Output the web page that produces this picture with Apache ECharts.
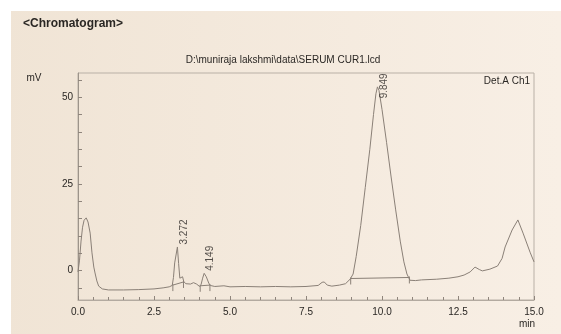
<!DOCTYPE html>
<html><head><meta charset="utf-8">
<script src="https://cdn.jsdelivr.net/npm/echarts@6/dist/echarts.min.js"></script>
<style>html,body{margin:0;padding:0;background:#fff}#c{width:561px;height:334px}</style>
</head><body><div id="c"></div>
<script>
// Detector trace (retention time in min, signal in mV)
const traceTime = [0.00,0.05,0.10,0.15,0.20,0.27,0.33,0.40,0.46,0.52,0.56,0.62,0.68,0.80,1.0,1.5,2.0,2.5,2.8,3.0,3.1,3.14,3.18,3.22,3.27,3.31,3.35,3.40,3.44,3.48,3.55,3.7,3.8,3.9,4.0,4.05,4.1,4.15,4.22,4.3,4.35,4.5,4.8,5.0,5.5,6.0,6.5,7.0,7.5,7.9,8.03,8.1,8.2,8.35,8.6,8.8,8.95,9.05,9.15,9.3,9.45,9.6,9.72,9.8,9.85,9.9,10.0,10.15,10.3,10.45,10.6,10.72,10.82,10.92,11.1,11.3,11.8,12.2,12.5,12.7,12.9,13.06,13.2,13.3,13.55,13.8,13.95,14.05,14.28,14.47,14.64,14.87,15.0];
const traceMV   = [-0.4,3.0,8.5,12.5,14.5,15.2,14.0,10.8,5.1,1.0,-0.7,-3.0,-4.5,-5.3,-5.6,-5.6,-5.5,-5.3,-5.0,-4.7,-4.3,-2.0,2.2,2.6,6.8,2.0,-2.2,-2.6,-1.8,-3.2,-3.8,-3.9,-3.5,-3.9,-4.6,-4.0,-2.2,-0.8,-1.8,-3.6,-4.3,-4.6,-4.4,-4.7,-4.6,-4.7,-4.6,-4.7,-4.6,-4.3,-3.4,-3.3,-4.2,-4.5,-4.2,-3.8,-2.5,-1.0,4.0,13.0,24.0,35.0,45.0,51.0,53.0,52.0,46.5,37.0,27.0,17.5,8.5,2.5,-1.0,-2.8,-2.9,-2.7,-2.5,-2.2,-1.8,-1.3,-0.4,1.0,0.3,-0.1,0.4,1.3,3.5,6.8,11.7,14.6,10.8,5.3,2.5];

// Labelled peaks
const peakRT = [3.272, 4.149, 9.849];
const peakMV = [6.8, -0.8, 53.0];

// Integration baselines (start / end of each peak)
const intStartT  = [3.12, 4.02, 8.97];
const intStartMV = [-4.2, -4.4, -2.3];
const intEndT    = [3.47, 4.34, 10.90];
const intEndMV   = [-3.3, -4.2, -2.0];

// Axis ticks
const yLabelValues = [0, 25, 50];
const yTickValues = [-5, 0, 5, 10, 15, 20, 25, 30, 35, 40, 45, 50, 55];

const TXT = '#2a2724';
const LINE = '#8a8077';
const FONT = '"Liberation Sans", Arial, sans-serif';

const chart = echarts.init(document.getElementById('c'), null, {renderer: 'canvas'});

const traceData = traceTime.map((t, i) => [t, traceMV[i]]);
const baseSeries = intStartT.map((t, i) => ({
  type: 'line', silent: true, symbol: 'none', animation: false,
  lineStyle: {color: LINE, width: 1},
  data: [[t, intStartMV[i]], [intEndT[i], intEndMV[i]]]
}));
const markData = [];
intStartT.forEach((t, i) => { markData.push([t, intStartMV[i]]); markData.push([intEndT[i], intEndMV[i]]); });

chart.setOption({
  animation: false,
  backgroundColor: {type: 'linear', x: 0, y: 0, x2: 1, y2: 0,
    colorStops: [{offset: 0, color: '#f0e4d5'}, {offset: 1, color: '#f8efe5'}]},
  textStyle: {fontFamily: FONT},
  grid: {left: 78, right: 27, top: 73, bottom: 34, show: true, borderColor: '#b9b0a6', borderWidth: 1},
  graphic: [
    {type: 'rect', left: 0, top: 0, shape: {width: 561, height: 11}, style: {fill: '#ffffff'}, silent: true},
    {type: 'rect', left: 0, top: 0, shape: {width: 11, height: 334}, style: {fill: '#ffffff'}, silent: true},
    {type: 'text', left: 23, top: 18, style: {text: '<Chromatogram>', font: 'bold 12px ' + FONT, fill: TXT}},
    {type: 'text', x: 283, y: 60, style: {text: 'D:\\muniraja lakshmi\\data\\SERUM CUR1.lcd', font: '10px ' + FONT, fill: TXT, align: 'center', verticalAlign: 'middle'}},
    {type: 'text', x: 34, y: 78, style: {text: 'mV', font: '10px ' + FONT, fill: TXT, align: 'center', verticalAlign: 'middle'}},
    {type: 'text', x: 530, y: 81, style: {text: 'Det.A Ch1', font: '10px ' + FONT, fill: TXT, align: 'right', verticalAlign: 'middle'}},
    {type: 'text', x: 527, y: 324, style: {text: 'min', font: '10px ' + FONT, fill: TXT, align: 'center', verticalAlign: 'middle'}}
  ],
  xAxis: {
    type: 'value', min: 0, max: 15, interval: 2.5,
    axisLine: {show: true, onZero: false, lineStyle: {color: '#b3aaa0', width: 1}},
    axisTick: {show: true, inside: true, length: 4, lineStyle: {color: '#8f857c'}},
    minorTick: {show: true, splitNumber: 5, length: 3, lineStyle: {color: '#8f857c'}},
    axisLabel: {color: TXT, fontSize: 10, margin: 7, formatter: v => v.toFixed(1)},
    splitLine: {show: false}, minorSplitLine: {show: false}
  },
  yAxis: {
    type: 'value', min: -8.5, max: 57,
    axisLine: {show: true, onZero: false, lineStyle: {color: '#9d948a', width: 1}},
    axisTick: {show: true, inside: true, length: 4, customValues: yTickValues, lineStyle: {color: '#8f857c'}},
    axisLabel: {color: TXT, fontSize: 10, margin: 5, customValues: yLabelValues},
    splitLine: {show: false}
  },
  series: [
    {type: 'line', data: traceData, symbol: 'none', silent: true, lineStyle: {color: LINE, width: 1}, z: 3},
    ...baseSeries,
    {type: 'custom', silent: true, data: markData,
      renderItem: (params, api) => {
        const p = api.coord([api.value(0), api.value(1)]);
        return {type: 'line', shape: {x1: p[0], y1: p[1] - 1, x2: p[0], y2: p[1] + 6}, style: {stroke: LINE, lineWidth: 1}};
      }},
    {type: 'scatter', silent: true, symbolSize: 1, itemStyle: {color: 'transparent'},
      data: peakRT.map((t, i) => ({value: [t, peakMV[i]], label: peakMV[i] > 45 ? {position: [7, 12]} : {}})),
      label: {show: true, rotate: 90, position: [7, -2], align: 'left', verticalAlign: 'middle',
        fontSize: 10, color: TXT, formatter: p => p.value[0].toFixed(3)}, z: 5}
  ]
});
</script>
</body></html>
